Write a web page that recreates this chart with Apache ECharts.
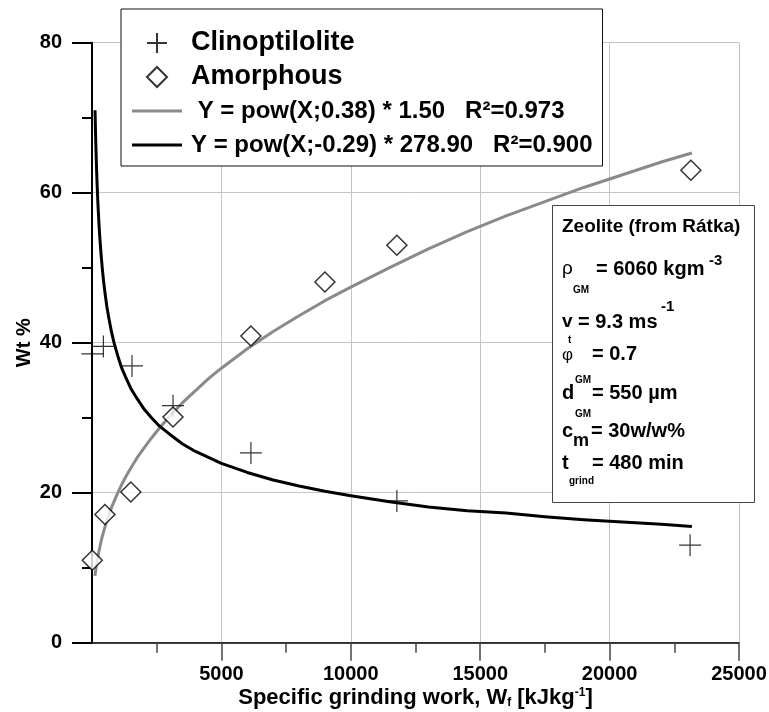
<!DOCTYPE html>
<html><head><meta charset="utf-8">
<script src="https://cdn.jsdelivr.net/npm/echarts@6/dist/echarts.min.js"></script>
<style>html,body{margin:0;padding:0;background:#fff}#c{width:769px;height:712px}</style>
</head><body><div id="c"></div>
<script>
// ---- data ----
const clinoX = [15, 440, 1546, 3130, 6140, 11780, 23110];
const clinoY = [38.5, 39.5, 36.9, 31.6, 25.3, 18.9, 13.0];
const amorX = [10, 500, 1500, 3130, 6140, 9000, 11780, 23140];
const amorY = [11.0, 17.1, 20.1, 30.1, 40.9, 48.1, 53.0, 63.0];
const fitX = [116, 125, 135, 150, 165, 180, 200, 225, 250, 275, 300, 350, 400, 450, 500, 575, 650, 750, 850, 1000,
  1150, 1300, 1500, 1750, 2000, 2300, 2600, 3000, 3500, 4000, 4500, 5000, 6000, 7000, 8000, 9000, 10000,
  11500, 13000, 14500, 16000, 17500, 19000, 20500, 22000, 23180];
const fitAmorY = [8.9, 9.2, 9.4, 9.8, 10.2, 10.5, 10.9, 11.4, 11.9, 12.3, 12.7, 13.5, 14.2, 14.8, 15.4, 16.3, 17.0, 18.0, 18.8, 20.0,
  21.1, 22.1, 23.3, 24.7, 25.9, 27.3, 28.6, 30.2, 32.0, 33.6, 35.2, 36.6, 39.2, 41.5, 43.6, 45.6, 47.4,
  50.0, 52.5, 54.8, 56.9, 58.8, 60.7, 62.4, 64.1, 65.3];
const fitClinoY = [71.0, 69.8, 68.2, 66.2, 64.4, 62.8, 60.9, 58.8, 57.1, 55.5, 54.1, 51.8, 49.8, 48.1, 46.7, 44.8, 43.3, 41.5, 40.0, 38.2,
  36.6, 35.4, 33.9, 32.5, 31.2, 30.0, 28.9, 27.8, 26.5, 25.5, 24.7, 23.9, 22.7, 21.7, 20.9, 20.2, 19.6,
  18.8, 18.1, 17.6, 17.3, 16.8, 16.4, 16.1, 15.8, 15.5];
const xTickValues = [5000, 10000, 15000, 20000, 25000];
const yTickValues = [0, 20, 40, 60, 80];
const names = ['Clinoptilolite', 'Amorphous', ' Y = pow(X;0.38) * 1.50   R²=0.973', 'Y = pow(X;-0.29) * 278.90   R²=0.900'];

const FF = '"Liberation Sans", Arial, sans-serif';
const zip = (xs, ys) => xs.map((x, i) => [x, ys[i]]);

const chart = echarts.init(document.getElementById('c'), null, {renderer: 'canvas'});

function txt(text, x, y, size, weight) {
  return {type: 'text', x: x, y: y, z: 101,
    style: {text: text, fontSize: size, fontWeight: weight || 'bold', fontFamily: FF, fill: '#000',
      align: 'left', verticalAlign: 'middle'}};
}

const LINE_ICON = 'path://M0,0L50,0L50,3L0,3Z';

const option = {
  backgroundColor: '#fff',
  animation: false,
  grid: {left: 92, top: 42.7, width: 647, height: 600, containLabel: false, outerBoundsMode: 'none'},
  legend: {
    orient: 'vertical', left: 121, top: 9,
    padding: [17, 10, 4, 11],
    itemWidth: 50, itemHeight: 20, itemGap: 0,
    backgroundColor: '#fff', borderColor: '#111', borderWidth: 1,
    textStyle: {fontFamily: FF, fontWeight: 'bold', color: '#000', lineHeight: 34, padding: [0, 0, 0, 4]},
    data: [
      {name: names[0], textStyle: {fontSize: 27}},
      {name: names[1], icon: 'path://M10,0L20,10L10,20L0,10Z', textStyle: {fontSize: 27}},
      {name: names[2], icon: LINE_ICON, textStyle: {fontSize: 24}},
      {name: names[3], icon: LINE_ICON, textStyle: {fontSize: 24}}
    ]
  },
  xAxis: {
    type: 'value', min: 0, max: 25000, interval: 5000,
    name: 'Specific grinding work, W{sub|f} [kJkg{sup|-1}]',
    nameLocation: 'middle', nameGap: 44, nameMoveOverlap: false,
    nameTextStyle: {fontFamily: FF, fontWeight: 'bold', fontSize: 22, color: '#000',
      rich: {
        sub: {fontFamily: FF, fontWeight: 'bold', fontSize: 12, lineHeight: 10, verticalAlign: 'bottom', color: '#000'},
        sup: {fontFamily: FF, fontWeight: 'bold', fontSize: 12, lineHeight: 12, verticalAlign: 'top', color: '#000'}
      }},
    axisLine: {show: true, onZero: false, lineStyle: {color: '#000', width: 1.5}},
    axisTick: {show: true, inside: false, length: 18, customValues: xTickValues, lineStyle: {color: '#444', width: 1.5}},
    minorTick: {show: true, splitNumber: 2, length: 10, lineStyle: {color: '#444', width: 1.5}},
    axisLabel: {customValues: xTickValues, margin: 22, fontFamily: FF, fontWeight: 'bold', fontSize: 20, color: '#000',
      formatter: v => String(v)},
    splitLine: {show: true, lineStyle: {color: '#c4c4c4', width: 1}}
  },
  yAxis: {
    type: 'value', min: 0, max: 80, interval: 20,
    name: 'Wt %', nameLocation: 'middle', nameGap: 58, nameMoveOverlap: false,
    nameTextStyle: {fontFamily: FF, fontWeight: 'bold', fontSize: 20, color: '#000'},
    axisLine: {show: true, onZero: false, lineStyle: {color: '#000', width: 2}},
    axisTick: {show: true, inside: false, length: 20, lineStyle: {color: '#000', width: 2}},
    minorTick: {show: true, splitNumber: 2, length: 10, lineStyle: {color: '#000', width: 2}},
    axisLabel: {margin: 30, fontFamily: FF, fontWeight: 'bold', fontSize: 20, color: '#000',
      formatter: v => String(v)},
    splitLine: {show: true, lineStyle: {color: '#c4c4c4', width: 1}}
  },
  series: [
    {name: names[2], type: 'line', data: zip(fitX, fitAmorY), symbol: 'none', showSymbol: false,
      smooth: false, lineStyle: {color: '#8a8a8a', width: 3, join: 'round'}, itemStyle: {color: '#8a8a8a'}, z: 2},
    {name: names[3], type: 'line', data: zip(fitX, fitClinoY), symbol: 'none', showSymbol: false,
      smooth: false, lineStyle: {color: '#000', width: 3, join: 'round'}, itemStyle: {color: '#000'}, z: 2},
    {name: names[0], type: 'scatter', data: zip(clinoX, clinoY),
      symbol: 'path://M0,10L20,10M10,0L10,20', symbolSize: 22,
      itemStyle: {color: 'rgba(0,0,0,0)', borderColor: '#000', borderWidth: 1.2}, z: 3},
    {name: names[1], type: 'scatter', data: zip(amorX, amorY),
      symbol: 'diamond', symbolSize: 20,
      itemStyle: {color: '#fff', borderColor: '#000', borderWidth: 1.5}, z: 3}
  ],
  graphic: [
    {type: 'rect', z: 100, shape: {x: 552.5, y: 205.5, width: 202, height: 297},
      style: {fill: '#fff', stroke: '#444', lineWidth: 1}},
    txt('Zeolite (from Rátka)', 562, 227, 19),
    txt('ρ', 562, 269, 19, 'normal'),
    txt('GM', 573, 290, 10),
    txt('= 6060 kgm', 596, 269, 20),
    txt('-3', 709, 261, 15),
    txt('v', 562, 322, 19),
    txt('t', 568, 340, 10),
    txt('= 9.3 ms', 578, 322, 20),
    txt('-1', 661, 307, 15),
    txt('φ', 562, 355, 17, 'normal'),
    txt('= 0.7', 592, 354, 20),
    txt('GM', 575, 380, 10),
    txt('d', 562, 393, 20),
    txt('= 550 µm', 592, 393, 20),
    txt('GM', 575, 414.5, 10),
    txt('c', 562, 431, 20),
    txt('m', 573, 441, 18),
    txt('= 30w/w%', 591, 431, 20),
    txt('t', 562, 463, 20),
    txt('= 480 min', 592, 463, 20),
    txt('grind', 569, 481, 10)
  ]
};
chart.setOption(option);
</script>
</body></html>
